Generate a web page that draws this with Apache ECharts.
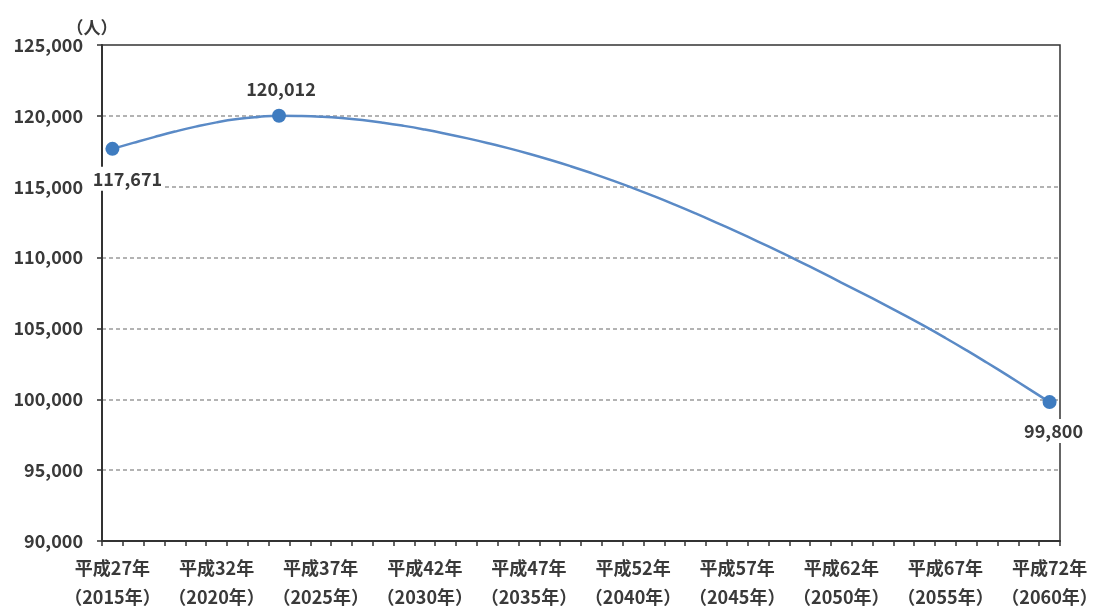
<!DOCTYPE html>
<html>
<head>
<meta charset="utf-8">
<script src="https://cdn.jsdelivr.net/npm/echarts@6/dist/echarts.min.js"></script>
<style>
html,body{margin:0;padding:0;background:#fff;}
#chart{width:1095px;height:608px;}
</style>
</head>
<body>
<div id="chart"></div>
<script>
// Years (categories)
var years = [2015,2016,2017,2018,2019,2020,2021,2022,2023,2024,
             2025,2026,2027,2028,2029,2030,2031,2032,2033,2034,
             2035,2036,2037,2038,2039,2040,2041,2042,2043,2044,
             2045,2046,2047,2048,2049,2050,2051,2052,2053,2054,
             2055,2056,2057,2058,2059,2060];
// Population (people)
var population = [117671,118091,118501,118891,119241,119541,119771,119921,120012,119992,
                  119937,119842,119702,119517,119292,119032,118742,118427,118087,117722,
                  117327,116902,116447,115962,115447,114902,114332,113737,113117,112472,
                  111812,111132,110432,109717,108987,108237,107497,106737,105957,105157,
                  104327,103467,102577,101667,100737,99800];
// Years that carry a marker and value label
var markedYears = [2015, 2023, 2060];
// X tick labels (every 5 years)
var tickLabels = ['平成27年\n（2015年）','平成32年\n（2020年）','平成37年\n（2025年）','平成42年\n（2030年）',
                  '平成47年\n（2035年）','平成52年\n（2040年）','平成57年\n（2045年）','平成62年\n（2050年）',
                  '平成67年\n（2055年）','平成72年\n（2060年）'];
var unitLabel = '（人）';

var FONT = '"Noto Sans CJK JP", "Noto Sans", sans-serif';
var TXT = '#3a3a3a';
function fmt(v){ return String(v).replace(/\B(?=(\d{3})+(?!\d))/g, ','); }

var labelOffsets = {2015: {position:'bottom', offset:[15,6]}, 2023: {position:'top', offset:[2,-3]}, 2060: {position:'bottom', offset:[4,5]}};

var seriesData = years.map(function(y, i){
  if (markedYears.indexOf(y) >= 0) {
    var lo = labelOffsets[y];
    return {
      value: population[i],
      symbol: 'circle',
      symbolSize: 14,
      label: {
        show: true,
        position: lo.position,
        offset: lo.offset,
        formatter: function(p){ return fmt(p.value); },
        color: TXT,
        fontSize: 18,
        fontWeight: 'bold',
        fontFamily: FONT,
        backgroundColor: '#fff',
        padding: [3, 2]
      }
    };
  }
  return { value: population[i], symbol: 'none' };
});

var chart = echarts.init(document.getElementById('chart'), null, {renderer:'canvas'});
chart.setOption({
  animation: false,
  backgroundColor: '#fff',
  grid: {left: 102, right: 35, top: 45, bottom: 67, show: true, borderColor: '#333', borderWidth: 1.5,
         containLabel: false, outerBoundsMode: 'none'},
  xAxis: {
    type: 'category',
    data: years,
    boundaryGap: true,
    axisLine: {show: true, lineStyle: {color: '#333', width: 2}},
    axisTick: {show: true, interval: 0, length: 5, lineStyle: {color: '#333', width: 1.5}},
    axisLabel: {
      interval: 4,
      margin: 13,
      color: TXT,
      fontSize: 18,
      fontWeight: 'bold',
      lineHeight: 29,
      fontFamily: FONT,
      formatter: function(v, idx){ return tickLabels[idx / 5] || ''; }
    },
    splitLine: {show: false}
  },
  yAxis: {
    type: 'value',
    min: 90000,
    max: 125000,
    interval: 5000,
    name: unitLabel,
    nameLocation: 'end',
    nameGap: 7,
    nameTextStyle: {color: TXT, fontSize: 17, fontWeight: 'bold', fontFamily: FONT, align: 'center', padding: [0, 20, 0, 0]},
    axisLine: {show: true, lineStyle: {color: '#333', width: 2}},
    axisTick: {show: true, length: 5, lineStyle: {color: '#333', width: 1.5}},
    axisLabel: {margin: 19, color: TXT, fontSize: 18, fontWeight: 'bold', fontFamily: FONT, formatter: function(v){ return fmt(v); }},
    splitLine: {show: true, showMinLine: false, showMaxLine: false, lineStyle: {color: '#9a9a9a', width: 1.5, type: [4, 3]}}
  },
  series: [{
    type: 'line',
    data: seriesData,
    smooth: true,
    symbol: 'none',
    showAllSymbol: true,
    lineStyle: {color: '#5a8ac6', width: 2.5},
    itemStyle: {color: '#3f7cc0'},
    z: 3
  }]
});
</script>
</body>
</html>
